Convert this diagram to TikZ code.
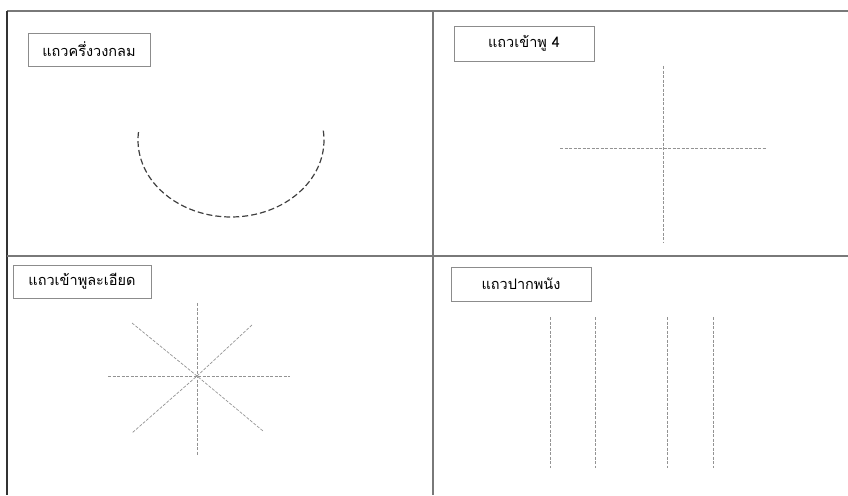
\documentclass[tikz,border=0pt]{standalone}
\usepackage{fontspec}
\newfontfamily\thaifont[Script=Thai]{Loma}
\usepackage{tikz}
\usetikzlibrary{positioning,calc}
\tikzset{
  frameline/.style={line width=1.6pt, gray!95!black},
  edgeline/.style={line width=1.6pt, black!80},
  labelbox/.style={draw=gray!90, line width=0.7pt, fill=white, minimum height=33pt, align=center, font=\thaifont\fontsize{14.5pt}{17pt}\selectfont},
  rowarc/.style={line width=1.2pt, black!75, dash pattern=on 6pt off 3pt},
  rowline/.style={line width=0.7pt, gray!85, dash pattern=on 3pt off 1.5pt}
}

\begin{document}
\begin{tikzpicture}[x=1pt, y=-1pt]
      \useasboundingbox (0,0) rectangle (848,495);
      \draw[frameline] (7,11) -- (848,11);
      \draw[edgeline] (7,11) -- (7,495);
      \draw[frameline] (7,256) -- (848,256);
      \draw[frameline] (433,11) -- (433,495);
      \node[labelbox, minimum width=122pt] (half) at (89,49.5) {แถวครึ่งวงกลม};
      \node[labelbox, minimum width=140pt, minimum height=35pt] (four) at (524,43.5) {แถวเข้าพู 4};
      \node[labelbox, minimum width=138pt] (fine) at (82,281.5) {แถวเข้าพูละเอียด};
      \node[labelbox, minimum width=140pt, minimum height=34pt] (mouth) at (521,284) {แถวปากพนัง};
      \draw[rowarc] (323.3,130.6) arc[start angle=-7, end angle=187, x radius=93, y radius=77];
      \coordinate (c4) at (663,148);
      \draw[rowline] (663,66) -- (663,242);
      \draw[rowline] (560,148) -- (767,148);
      \coordinate (c8) at (197,376);
      \draw[rowline] (197,303) -- (c8) -- (197,455);
      \draw[rowline] (108,376) -- (c8) -- (290,376);
      \draw[rowline] (132,323) -- (c8) -- (263,431);
      \draw[rowline] (252,325) -- (c8) -- (132,433);
      \foreach \x in {550,595,667,713}
        \draw[rowline] (\x,317) -- (\x,468);
    \end{tikzpicture}
\end{document}
